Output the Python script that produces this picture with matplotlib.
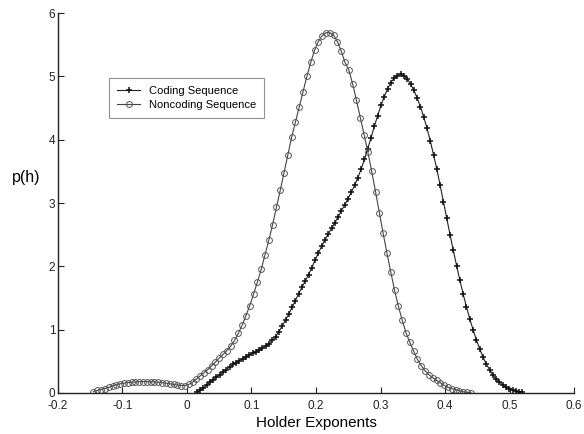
import numpy as np
import matplotlib
matplotlib.use("Agg")
import matplotlib.pyplot as plt

plt.rcParams['font.family'] = ['Liberation Sans', 'DejaVu Sans']

# noncoding density, 100 points from -0.145 to 0.44
nc_start, nc_end = -0.145, 0.44
noncoding = [
    0.02, 0.04, 0.055, 0.07, 0.09, 0.11, 0.13, 0.145, 0.155, 0.165,
    0.17, 0.175, 0.178, 0.18, 0.18, 0.178, 0.175, 0.17, 0.163, 0.155,
    0.145, 0.135, 0.125, 0.118, 0.118, 0.135, 0.17, 0.22, 0.27, 0.32,
    0.37, 0.43, 0.49, 0.55, 0.61, 0.67, 0.74, 0.83, 0.94, 1.07,
    1.22, 1.38, 1.56, 1.75, 1.95, 2.18, 2.41, 2.66, 2.93, 3.20,
    3.48, 3.76, 4.04, 4.28, 4.52, 4.76, 5.00, 5.22, 5.41, 5.55,
    5.64, 5.69, 5.69, 5.65, 5.55, 5.40, 5.22, 5.10, 4.88, 4.62,
    4.35, 4.08, 3.80, 3.50, 3.18, 2.85, 2.52, 2.21, 1.91, 1.62,
    1.37, 1.15, 0.95, 0.80, 0.66, 0.53, 0.43, 0.35, 0.29, 0.24,
    0.20, 0.16, 0.12, 0.09, 0.07, 0.05, 0.035, 0.02, 0.012, 0.005,
]

# coding density, 100 points from 0.015 to 0.52
c_start, c_end = 0.015, 0.52
coding = [
    0.01, 0.04, 0.08, 0.12, 0.17, 0.21, 0.25, 0.29, 0.33, 0.37,
    0.41, 0.45, 0.48, 0.51, 0.54, 0.57, 0.60, 0.63, 0.65, 0.68,
    0.71, 0.74, 0.78, 0.83, 0.89, 0.97, 1.06, 1.15, 1.25, 1.35,
    1.46, 1.57, 1.67, 1.77, 1.87, 1.98, 2.10, 2.21, 2.32, 2.42,
    2.51, 2.60, 2.69, 2.78, 2.88, 2.97, 3.07, 3.17, 3.28, 3.40,
    3.54, 3.69, 3.86, 4.03, 4.21, 4.38, 4.54, 4.68, 4.80, 4.90,
    4.97, 5.01, 5.03, 5.01, 4.96, 4.88, 4.78, 4.66, 4.52, 4.36,
    4.18, 3.98, 3.76, 3.53, 3.28, 3.02, 2.76, 2.50, 2.25, 2.01,
    1.78, 1.56, 1.36, 1.17, 1.00, 0.84, 0.70, 0.57, 0.46, 0.37,
    0.29, 0.22, 0.17, 0.13, 0.09, 0.07, 0.05, 0.03, 0.02, 0.01,
]

x_ticks = [-0.2, -0.1, 0, 0.1, 0.2, 0.3, 0.4, 0.5, 0.6]
x_labels = ['-0.2', '-0.1', '0', '0.1', '0.2', '0.3', '0.4', '0.5', '0.6']
y_ticks = [0, 1, 2, 3, 4, 5, 6]

x_nc = np.linspace(nc_start, nc_end, len(noncoding))
x_c = np.linspace(c_start, c_end, len(coding))

fig = plt.figure(figsize=(5.84, 4.34), dpi=100)
ax = fig.add_axes([0.0993, 0.0945, 0.8836, 0.8755])

ax.plot(x_c, coding, color='#222222', lw=0.8, marker='+', ms=4.2, mew=1.1,
        mec='#111111', label='Coding Sequence')
ax.plot(x_nc, noncoding, color='#444444', lw=0.8, marker='o', ms=4.2, mew=0.7,
        mfc='none', mec='#555555', label='Noncoding Sequence')

ax.set_xlim(-0.2, 0.6)
ax.set_ylim(0, 6)
ax.set_xticks(x_ticks)
ax.set_xticklabels(x_labels)
ax.set_yticks(y_ticks)
ax.tick_params(direction='in', length=4, width=0.8, labelsize=8.5, colors='#222222')
ax.tick_params(axis='x', pad=5)
ax.tick_params(axis='y', pad=2)
for s in ['top', 'right']:
    ax.spines[s].set_visible(False)
for s in ['left', 'bottom']:
    ax.spines[s].set_linewidth(1.0)
    ax.spines[s].set_color('#222222')

ax.set_xlabel('Holder Exponents', fontsize=11, labelpad=3)
ax.set_ylabel('p(h)', fontsize=11.5, rotation=0, va='center', ha='center')
ax.yaxis.set_label_coords(-0.062, 0.568)

leg = ax.legend(loc='upper left', bbox_to_anchor=(0.099, 0.829), fontsize=8,
                frameon=True, fancybox=False, edgecolor='#777777',
                handlelength=2.0, borderpad=0.75, labelspacing=0.3,
                borderaxespad=0)
leg.get_frame().set_linewidth(0.8)

fig.savefig('out.png', dpi=100)
